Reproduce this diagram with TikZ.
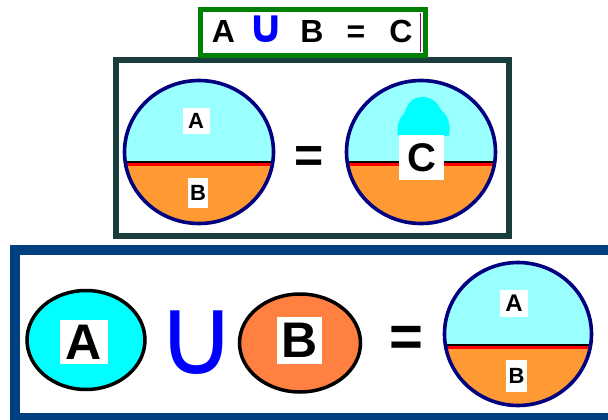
\documentclass[tikz,border=0pt]{standalone}
\usepackage{fontspec}
\setmainfont{Liberation Sans}
\newfontfamily\djv{DejaVu Sans}
\usetikzlibrary{shapes.geometric}
\definecolor{lcyan}{RGB}{153,255,255}
\definecolor{sorange}{RGB}{255,153,51}
\definecolor{rim}{RGB}{0,0,128}
\definecolor{acyan}{RGB}{0,255,255}
\definecolor{borange}{RGB}{255,128,64}
\definecolor{midframe}{RGB}{25,60,60}
\definecolor{botframe}{RGB}{0,64,128}
\definecolor{topframe}{RGB}{0,128,0}
\definecolor{cursor}{RGB}{150,0,150}
\newcommand\fsz[1]{\fontsize{#1}{#1}\selectfont\bfseries}
\newcommand\fsr[1]{\fontsize{#1}{#1}\selectfont}
% #1 name, #2 cx, #3 cy, #4 rx, #5 ry, #6 divider y
\newcommand\splitdisc[6]{%
  \fill[lcyan] (#2,#3) ellipse ({#4} and {#5});
  \begin{scope}
    \clip (#2,#3) ellipse ({#4+1} and {#5});
    \fill[sorange] (#2-#4-3,#6) rectangle (#2+#4+3,#3+#5+3);
    \draw[red, line width=3.5] (#2-#4-3,#6+1.6) -- (#2+#4+3,#6+1.6);
    \draw[black, line width=2.2] (#2-#4-3,#6-1) -- (#2+#4+3,#6-1);
  \end{scope}
  \node[ellipse, draw=rim, line width=3.6, minimum width=2*#4, minimum height=2*#5, inner sep=0pt] (#1) at (#2,#3) {};
}
\begin{document}
\begin{tikzpicture}[x=1pt,y=-1pt,
  lab/.style={fill=white, inner sep=0pt},
  eqsign/.style={inner sep=0pt, font=\fsz{#1}},
  eqsign/.default=50]
\useasboundingbox (0,0) rectangle (608,420);
\fill[white] (0,0) rectangle (608,420);

% ---------- bottom frame ----------
\draw[botframe, line width=10] (14.5,250) rectangle (650,418);

% ---------- middle frame ----------
\draw[midframe, line width=6] (116,60) rectangle (509,236);

% ---------- top frame ----------
\draw[topframe, line width=5] (200.5,9.5) rectangle (425.5,55.5);
\draw[cursor, line width=1] (420,13) -- (420,52);
\node[font=\fsz{32}, anchor=base, inner sep=0pt] (t1) at (223.5,43) {A};
\node[font=\djv\fsz{46}, text=blue, anchor=base, inner sep=0pt] (t2) at (266,43) {∪};
\node[font=\fsz{32}, anchor=base, inner sep=0pt] (t3) at (312,43) {B};
\node[font=\fsz{32}, anchor=base, inner sep=0pt] (t4) at (356,43) {=};
\node[font=\fsz{32}, anchor=base, inner sep=0pt] (t5) at (401,43) {C};

% ---------- middle row ----------
\splitdisc{d1}{199}{152}{74.5}{71.5}{163}
\node[lab, minimum width=27, minimum height=26, font=\fsz{22}] (la1) at (196,121) {A};
\node[lab, minimum width=20, minimum height=30, font=\fsz{22}] (lb1) at (198,193) {B};
\node[eqsign=50] (eq1) at (309.5,159.5) {=};
\splitdisc{d2}{421}{152}{74.5}{71.5}{163}
\fill[acyan] (398,136) .. controls (396,125) and (400,118) .. (405,112)
  .. controls (408,101) and (415,97) .. (422,97)
  .. controls (432,97) and (438,103) .. (441,110)
  .. controls (448,115) and (451,125) .. (449,136) -- cycle;
\node[lab, minimum width=45, minimum height=45, font=\fsz{40}] (lc) at (421.5,157.5) {C};

% ---------- bottom row ----------
\node[ellipse, draw=black, line width=3.5, fill=acyan, minimum width=118, minimum height=99, inner sep=0pt] (ca) at (86,340) {};
\node[lab, minimum width=48, minimum height=44, font=\fsz{50}] (lA) at (84,342) {A};
\node[font=\djv\fsr{110}, text=blue, inner sep=0pt] (un) at (197,343) {∪};
\node[ellipse, draw=black, line width=3.5, fill=borange, minimum width=121, minimum height=98, inner sep=0pt] (cb) at (300,343) {};
\node[lab, minimum width=45, minimum height=47, font=\fsz{50}] (lB) at (299.5,340.5) {B};
\node[eqsign=58] (eq2) at (406,341) {=};
\splitdisc{d3}{518}{334}{73.5}{71.5}{346}
\node[lab, minimum width=28, minimum height=27, font=\fsz{24}] (la3) at (514,303.5) {A};
\node[lab, minimum width=21, minimum height=32, font=\fsz{22}] (lb3) at (516.5,376) {B};
\end{tikzpicture}
\end{document}
